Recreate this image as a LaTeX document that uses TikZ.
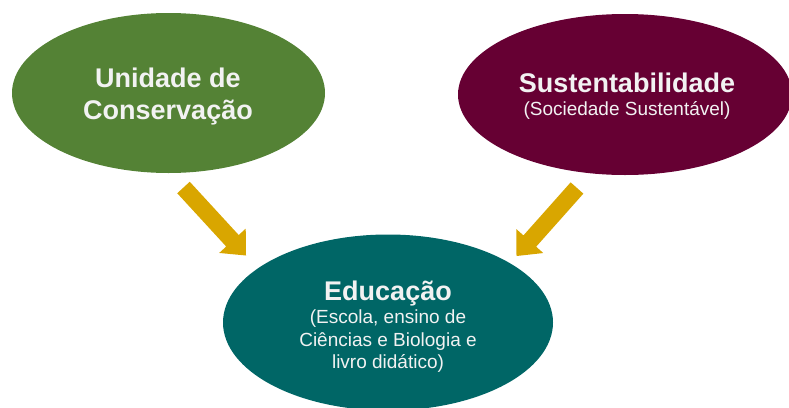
\documentclass[tikz,border=0pt]{standalone}
\usepackage{fontspec}
\setmainfont{Liberation Sans}
\usetikzlibrary{shapes.geometric,calc}
\definecolor{ucgreen}{HTML}{548235}
\definecolor{susmaroon}{HTML}{660033}
\definecolor{eduteal}{HTML}{006666}
\definecolor{arrgold}{HTML}{D9A600}
\definecolor{txtwhite}{HTML}{F2F2F2}
\tikzset{
  blob/.style={ellipse, inner sep=0pt, draw=none},
  title/.style={text=txtwhite, font=\fontsize{27}{32}\selectfont\bfseries, anchor=base, inner sep=0pt},
  sub/.style={text=txtwhite, font=\fontsize{19}{23}\selectfont, anchor=base, inner sep=0pt},
  blockarrow/.style={fill=arrgold, draw=none}
}
\begin{document}
\begin{tikzpicture}[x=1pt,y=-1pt]
\useasboundingbox (0,0) rectangle (789,407);
% ellipses
\node[blob, fill=ucgreen, minimum width=313pt, minimum height=160pt] (uc) at (168.5,93) {};
\node[blob, fill=susmaroon, minimum width=334pt, minimum height=161pt] (sus) at (625,94.5) {};
\node[blob, fill=eduteal, minimum width=330pt, minimum height=176pt] (edu) at (388,322.5) {};
% texts
\node[title] (uc1) at (168,87) {Unidade de};
\node[title] (uc2) at (168,119) {Conservação};
\node[title] (sus1) at (627,92) {Sustentabilidade};
\node[sub] (sus2) at (627,115) {(Sociedade Sustentável)};
\node[title] (edu1) at (388,300) {Educação};
\node[sub] (edu2) at (388,323) {(Escola, ensino de};
\node[sub] (edu3) at (388,346) {Ciências e Biologia e};
\node[sub] (edu4) at (388,368) {livro didático)};
% arrows
\coordinate (lt) at (183.5,187.5);
\coordinate (lp) at (246,255.5);
\coordinate (rt) at (577,188);
\coordinate (rp) at (516.5,256);
\foreach \t/\p in {lt/lp, rt/rp}{
  \coordinate (h) at ($(\p)!20pt!(\t)$);
  \fill[blockarrow]
    ($(\t)!8.5pt!90:(\p)$) -- ($(h)!8.5pt!90:(\p)$) -- ($(h)!18pt!90:(\p)$) --
    (\p) --
    ($(h)!18pt!-90:(\p)$) -- ($(h)!8.5pt!-90:(\p)$) -- ($(\t)!8.5pt!-90:(\p)$) -- cycle;
}
\end{tikzpicture}
\end{document}
